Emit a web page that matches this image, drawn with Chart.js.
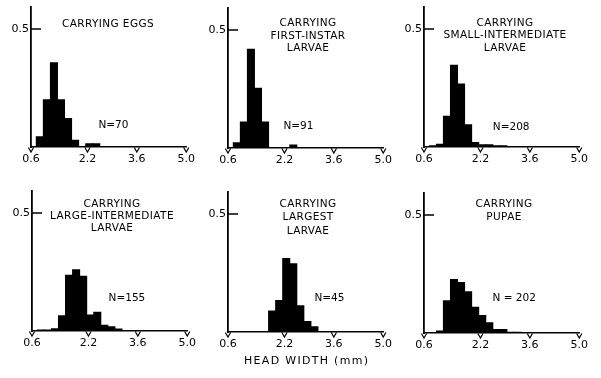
<!DOCTYPE html>
<html>
<head>
<meta charset="utf-8">
<script src="https://cdn.jsdelivr.net/npm/chart.js@4.4.1/dist/chart.umd.min.js"></script>
<style>
    body { margin: 0; background: #fff; }
    #wrap { position: relative; width: 601px; height: 378px; overflow: hidden; background: #fff; }
    #wrap canvas { position: absolute; }
    #xTitle {
        position: absolute; left: 244px; top: 354px; width: 134px;
        font: 11px 'DejaVu Sans'; letter-spacing: 1.3px; color: #000; white-space: nowrap;
    }
</style>
</head>
<body>
<div id="wrap">
    <canvas id="c0" width="200" height="172"></canvas>
    <canvas id="c1" width="200" height="172"></canvas>
    <canvas id="c2" width="200" height="172"></canvas>
    <canvas id="c3" width="200" height="172"></canvas>
    <canvas id="c4" width="200" height="172"></canvas>
    <canvas id="c5" width="200" height="172"></canvas>
    <div id="xTitle">HEAD WIDTH (mm)</div>
</div>
<script>
// bin centres (mm), bins are 0.2 mm wide
const binCenters = [0.65, 0.85, 1.05, 1.25, 1.45, 1.65, 1.85, 2.05, 2.25, 2.45, 2.65, 2.85, 3.05, 3.25, 3.45];

// proportion of workers in each head-width bin
const eggs        = [0, 0.043, 0.200, 0.357, 0.200, 0.121, 0.029, 0, 0.014, 0.014, 0, 0, 0, 0, 0];
const firstInstar = [0, 0.022, 0.110, 0.418, 0.253, 0.110, 0, 0, 0, 0.013, 0, 0, 0, 0, 0];
const smallInter  = [0, 0.005, 0.012, 0.130, 0.346, 0.267, 0.094, 0.019, 0.010, 0.010, 0.005, 0.005, 0.002, 0.002, 0];
const largeInter  = [0, 0.004, 0.004, 0.010, 0.065, 0.236, 0.260, 0.232, 0.068, 0.079, 0.024, 0.018, 0.008, 0, 0];
const largest     = [0, 0, 0, 0, 0, 0, 0.089, 0.133, 0.311, 0.289, 0.111, 0.044, 0.022, 0, 0];
const pupae       = [0, 0, 0.008, 0.137, 0.227, 0.214, 0.175, 0.109, 0.074, 0.043, 0.015, 0.015, 0.003, 0.003, 0];

const xTicks = [0.6, 2.2, 3.6, 5.0];
const yTicks = [0.5];

const titles = [
    ['CARRYING EGGS'],
    ['CARRYING', 'FIRST-INSTAR', 'LARVAE'],
    ['CARRYING', 'SMALL-INTERMEDIATE', 'LARVAE'],
    ['CARRYING', 'LARGE-INTERMEDIATE', 'LARVAE'],
    ['CARRYING', 'LARGEST', 'LARVAE'],
    ['CARRYING', 'PUPAE']
];
const nLabels = ['N=70', 'N=91', 'N=208', 'N=155', 'N=45', 'N = 202'];
const series = [eggs, firstInstar, smallInter, largeInter, largest, pupae];

// page layout of each panel: x0 = pixel of 0.6 mm, yb = baseline, title centre, N label (data units)
const layout = [
    { x0: 31,  yb: 147, tx: 108, ty: 24,  pitch: 12.5, nx: 2.51, ny: 0.093 },
    { x0: 228, yb: 148, tx: 308, ty: 23.5, pitch: 12.5, nx: 2.17, ny: 0.090 },
    { x0: 424, yb: 147, tx: 505, ty: 23,  pitch: 12.5, nx: 2.55, ny: 0.083 },
    { x0: 32,  yb: 331, tx: 112, ty: 204, pitch: 12.3, nx: 2.77, ny: 0.139 },
    { x0: 228, yb: 332, tx: 308, ty: 204, pitch: 13.5, nx: 3.05, ny: 0.143 },
    { x0: 424, yb: 333, tx: 504, ty: 204.5, pitch: 12.3, nx: 2.54, ny: 0.146 }
];

const INK = '#000';
const FONT = "'DejaVu Sans'";

// ticks, titles and N labels drawn on top
const decorPlugin = {
    id: 'decor',
    afterDraw(chart, args, opts) {
        const ctx = chart.ctx;
        const xs = chart.scales.x, ys = chart.scales.y;
        const base = ys.getPixelForValue(0);
        ctx.save();
        ctx.strokeStyle = INK;
        ctx.fillStyle = INK;

        // 0.5 tick pointing inwards
        ctx.lineWidth = 1.5;
        yTicks.forEach(v => {
            const py = ys.getPixelForValue(v);
            ctx.beginPath();
            ctx.moveTo(xs.left, py);
            ctx.lineTo(xs.left + 10, py);
            ctx.stroke();
        });

        // little open triangles under the x axis
        ctx.lineWidth = 1.2;
        xTicks.forEach(v => {
            const px = xs.getPixelForValue(v);
            ctx.beginPath();
            ctx.moveTo(px - 2.6, base + 0.5);
            ctx.lineTo(px, base + 5);
            ctx.lineTo(px + 2.6, base + 0.5);
            ctx.stroke();
        });

        // panel title
        ctx.font = '10.5px ' + FONT;
        ctx.letterSpacing = '0.4px';
        ctx.textAlign = 'center';
        ctx.textBaseline = 'middle';
        opts.title.forEach((line, i) => {
            ctx.fillText(line, opts.tx, opts.ty + i * opts.pitch);
        });

        // sample size
        ctx.textAlign = 'left';
        ctx.letterSpacing = '0px';
        ctx.fillText(opts.n, xs.getPixelForValue(opts.nx), ys.getPixelForValue(opts.ny));
        ctx.restore();
    }
};

function TaoHistogram(i) {
    const L = layout[i];
    const canvas = document.getElementById('c' + i);
    const left = L.x0 - 30;
    const top = L.yb - 150;
    canvas.style.left = left + 'px';
    canvas.style.top = top + 'px';

    return new Chart(canvas.getContext('2d'), {
        type: 'bar',
        data: {
            datasets: [{
                data: binCenters.map((c, k) => ({ x: c, y: series[i][k] })),
                backgroundColor: INK,
                borderWidth: 0,
                inflateAmount: 0.5,
                barPercentage: 1,
                categoryPercentage: 1
            }]
        },
        plugins: [decorPlugin],
        options: {
            responsive: false,
            animation: false,
            layout: { padding: { top: 150 - 0.595 * 236, right: 11, left: 0, bottom: 0 } },
            plugins: {
                legend: { display: false },
                tooltip: { enabled: false },
                decor: {
                    title: titles[i],
                    n: nLabels[i],
                    tx: L.tx - left,
                    ty: L.ty - top,
                    pitch: L.pitch,
                    nx: L.nx,
                    ny: L.ny
                }
            },
            scales: {
                x: {
                    type: 'linear',
                    min: 0.6,
                    max: 5.0,
                    offset: false,
                    afterBuildTicks: axis => { axis.ticks = xTicks.map(v => ({ value: v })); },
                    afterFit: axis => { axis.height = 22; },
                    grid: { display: false, drawTicks: false },
                    border: { display: true, color: INK, width: 1.5 },
                    ticks: {
                        autoSkip: false,
                        maxRotation: 0,
                        padding: 6,
                        color: INK,
                        font: { family: FONT, size: 11 },
                        callback: v => Number(v).toFixed(1)
                    }
                },
                y: {
                    min: 0,
                    max: 0.595,
                    afterBuildTicks: axis => { axis.ticks = yTicks.map(v => ({ value: v })); },
                    afterFit: axis => { axis.width = 30; },
                    grid: { display: false, drawTicks: false },
                    border: { display: true, color: INK, width: 1.8 },
                    ticks: {
                        padding: 2,
                        color: INK,
                        font: { family: FONT, size: 11 },
                        callback: v => Number(v).toFixed(1)
                    }
                }
            }
        }
    });
}

for (let i = 0; i < 6; i++) TaoHistogram(i);
</script>
</body>
</html>
